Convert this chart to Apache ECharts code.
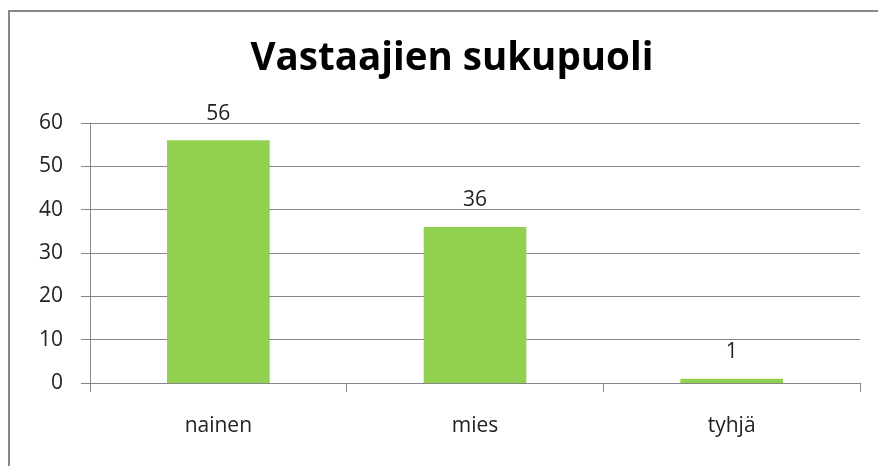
<!DOCTYPE html>
<html>
<head>
<meta charset="utf-8">
<script src="https://cdn.jsdelivr.net/npm/echarts@6/dist/echarts.min.js"></script>
<style>
  html, body { margin: 0; padding: 0; background: #fff; }
  #chart { width: 878px; height: 466px; }
</style>
</head>
<body>
<div id="chart"></div>
<script>
const categories = ['nainen', 'mies', 'tyhjä'];
const counts = [56, 36, 1];
const yTicks = { min: 0, max: 60, interval: 10 };

const chart = echarts.init(document.getElementById('chart'));

const font = '"Open Sans", Lato, sans-serif';

chart.setOption({
    animation: false,
    title: {
        text: 'Vastaajien sukupuoli',
        left: 447,
        top: 35,
        textAlign: 'center',
        textStyle: { fontFamily: font, fontSize: 38.5, fontWeight: 'bold', color: '#000' }
    },
    // outer chart frame
    graphic: [{
        type: 'rect',
        shape: { x: 9, y: 11, width: 900, height: 500 },
        style: { fill: 'none', stroke: '#878787', lineWidth: 2 },
        silent: true
    }],
    grid: { left: 90, right: 18, top: 123, bottom: 83 },
    xAxis: {
        type: 'category',
        data: categories,
        axisLine: { lineStyle: { color: '#868686', width: 1 } },
        axisTick: { show: true, length: 9, lineStyle: { color: '#868686' } },
        axisLabel: { margin: 33, fontFamily: font, fontSize: 21, color: '#222' }
    },
    yAxis: {
        type: 'value',
        min: yTicks.min,
        max: yTicks.max,
        interval: yTicks.interval,
        axisLine: { show: true, lineStyle: { color: '#868686', width: 1 } },
        axisTick: { show: true, length: 9, lineStyle: { color: '#868686' } },
        splitLine: { lineStyle: { color: '#868686', width: 1 } },
        axisLabel: { margin: 27, fontFamily: font, fontSize: 21, color: '#222' }
    },
    series: [{
        type: 'bar',
        data: counts,
        barWidth: '40%',
        itemStyle: { color: '#92D050' },
        label: {
            show: true,
            position: 'top',
            distance: 16,
            fontFamily: font,
            fontSize: 21,
            color: '#222'
        }
    }]
});
</script>
</body>
</html>
